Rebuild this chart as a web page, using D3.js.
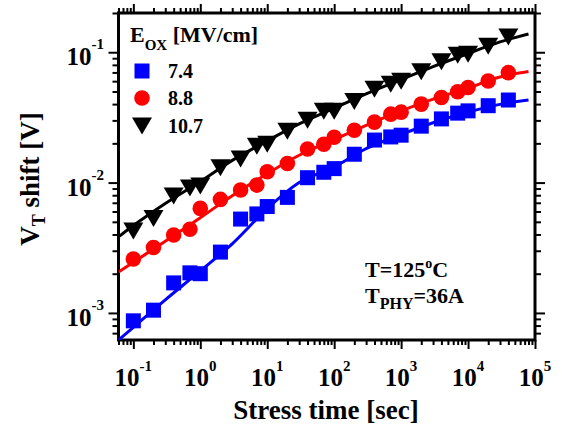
<!DOCTYPE html>
<html>
<head>
<meta charset="utf-8">
<script src="https://cdn.jsdelivr.net/npm/d3@7"></script>
<style>
body { margin: 0; background: #fff; }
text { font-family: "Liberation Serif", "Times New Roman", serif; font-weight: bold; fill: #000; }
</style>
</head>
<body>
<div id="chart"></div>
<script>
// stress times [sec] and measured VT shift [V] per oxide field
const times = [0.1, 0.2, 0.4, 0.7, 1, 2, 4, 7, 10, 20, 40, 70, 100, 200, 400, 700, 1000, 2000, 4000, 7000, 10000, 20000, 40000];
const shift74 = [8.7e-4, 1.05e-3, 1.7e-3, 2.03e-3, 2.0e-3, 2.93e-3, 5.25e-3, 5.75e-3, 6.55e-3, 7.7e-3, 1.09e-2, 1.2e-2, 1.28e-2, 1.65e-2, 2.12e-2, 2.24e-2, 2.31e-2, 2.71e-2, 3.08e-2, 3.41e-2, 3.55e-2, 3.89e-2, 4.3e-2];
const shift88 = [2.59e-3, 3.18e-3, 3.96e-3, 4.38e-3, 6.34e-3, 7.43e-3, 8.77e-3, 9.57e-3, 1.21e-2, 1.4e-2, 1.81e-2, 1.97e-2, 2.23e-2, 2.52e-2, 2.91e-2, 3.35e-2, 3.47e-2, 4.0e-2, 4.5e-2, 4.98e-2, 5.37e-2, 6.02e-2, 6.97e-2];
const shift107 = [4.25e-3, 5.3e-3, 7.89e-3, 9.08e-3, 9.4e-3, 1.3e-2, 1.52e-2, 1.9e-2, 1.97e-2, 2.48e-2, 3.01e-2, 3.53e-2, 3.53e-2, 4.18e-2, 5.2e-2, 5.68e-2, 6.0e-2, 7.09e-2, 8.46e-2, 9.48e-2, 9.66e-2, 0.111, 0.131];

// fitted curves
const fitTimes = [0.06, 0.1, 0.3, 1, 3, 10, 30, 100, 300, 1000, 3000, 10000, 30000, 80000];
const fit74 = [6.2e-4, 7.76e-4, 1.26e-3, 2.1e-3, 3.39e-3, 6.31e-3, 1.0e-2, 1.32e-2, 1.82e-2, 2.34e-2, 2.88e-2, 3.47e-2, 3.98e-2, 4.3e-2];
const fit88 = [2.06e-3, 2.45e-3, 3.55e-3, 5.37e-3, 7.94e-3, 1.17e-2, 1.62e-2, 2.14e-2, 2.75e-2, 3.55e-2, 4.37e-2, 5.31e-2, 6.46e-2, 7.11e-2];
const fit107 = [3.83e-3, 4.68e-3, 6.92e-3, 1.02e-2, 1.48e-2, 2.09e-2, 2.82e-2, 3.72e-2, 4.79e-2, 6.17e-2, 7.76e-2, 9.77e-2, 0.12, 0.138];

const legendLabels = ["7.4", "8.8", "10.7"];
const xTickValues = [0.1, 1, 10, 100, 1000, 10000, 100000];
const xTickExps = ["-1", "0", "1", "2", "3", "4", "5"];
const yTickValues = [0.001, 0.01, 0.1];
const yTickExps = ["-3", "-2", "-1"];

const width = 562, height = 427;
const margin = { left: 118.5, right: 535, top: 13, bottom: 340 };

const svg = d3.select("#chart").append("svg")
    .attr("width", width)
    .attr("height", height);

const x = d3.scaleLog().domain([0.06, 1e5]).range([margin.left, margin.right]);
const y = d3.scaleLog().domain([6.2e-4, 0.2]).range([margin.bottom, margin.top]);

svg.append("clipPath").attr("id", "plotclip")
    .append("rect")
    .attr("x", margin.left).attr("y", margin.top)
    .attr("width", margin.right - margin.left).attr("height", margin.bottom - margin.top);

// ticks on all four sides, pointing out
const xMinor = x.ticks().filter(t => !xTickValues.some(v => Math.abs(v - t) < 1e-9 * v));
const yMinor = y.ticks().filter(t => !yTickValues.some(v => Math.abs(v - t) < 1e-9));

function tickAxis(axis, values, size, transform) {
    const g = svg.append("g")
        .attr("transform", transform)
        .call(axis.tickValues(values).tickSize(size).tickSizeOuter(0).tickFormat(""));
    g.select(".domain").remove();
    g.selectAll("line").attr("stroke", "#000").attr("stroke-width", 2);
}
tickAxis(d3.axisBottom(x), xTickValues, 9, `translate(0,${margin.bottom})`);
tickAxis(d3.axisBottom(x), xMinor, 5, `translate(0,${margin.bottom})`);
tickAxis(d3.axisTop(x), xTickValues, 9, `translate(0,${margin.top})`);
tickAxis(d3.axisTop(x), xMinor, 5, `translate(0,${margin.top})`);
tickAxis(d3.axisLeft(y), yTickValues, 10, `translate(${margin.left},0)`);
tickAxis(d3.axisLeft(y), yMinor, 6, `translate(${margin.left},0)`);
tickAxis(d3.axisRight(y), yTickValues, 10, `translate(${margin.right},0)`);
tickAxis(d3.axisRight(y), yMinor, 6, `translate(${margin.right},0)`);

svg.append("rect")
    .attr("x", margin.left).attr("y", margin.top)
    .attr("width", margin.right - margin.left).attr("height", margin.bottom - margin.top)
    .attr("fill", "none")
    .attr("stroke", "#000")
    .attr("stroke-width", 3);

// tick labels 10^n
const xl = svg.selectAll(".xlab")
    .data(xTickValues)
    .enter()
    .append("text")
    .attr("class", "xlab")
    .attr("x", d => x(d))
    .attr("y", 386)
    .style("text-anchor", "middle")
    .style("font-size", "25px");
xl.append("tspan").text("10");
xl.append("tspan").attr("dy", -15).style("font-size", "15px").text((d, i) => xTickExps[i]);

const yl = svg.selectAll(".ylab")
    .data(yTickValues)
    .enter()
    .append("text")
    .attr("class", "ylab")
    .attr("x", 104)
    .attr("y", d => y(d) + 13)
    .style("text-anchor", "end")
    .style("font-size", "25px");
yl.append("tspan").text("10");
yl.append("tspan").attr("dy", -16).style("font-size", "15px").text((d, i) => yTickExps[i]);

// axis titles
svg.append("text")
    .attr("x", 326)
    .attr("y", 419)
    .style("text-anchor", "middle")
    .style("font-size", "27px")
    .text("Stress time [sec]");

const yt = svg.append("text")
    .attr("transform", "translate(39,179) rotate(-90)")
    .style("text-anchor", "middle")
    .style("font-size", "27px");
yt.append("tspan").text("V");
yt.append("tspan").attr("dy", 6).style("font-size", "18px").text("T");
yt.append("tspan").attr("dy", -6).text(" shift [V]");

// fit lines then markers
const series = [
    { values: shift74, fit: fit74, color: "#0000ff", shape: "square" },
    { values: shift88, fit: fit88, color: "#ff0000", shape: "circle" },
    { values: shift107, fit: fit107, color: "#000000", shape: "triangle" }
];

const line = d3.line()
    .x(d => x(d[0]))
    .y(d => y(d[1]))
    .curve(d3.curveMonotoneX);

const plot = svg.append("g").attr("clip-path", "url(#plotclip)");

series.forEach(s => {
    plot.append("path")
        .datum(fitTimes.map((t, i) => [t, s.fit[i]]))
        .attr("d", line)
        .attr("fill", "none")
        .attr("stroke", s.color)
        .attr("stroke-width", 3);
});

function drawMarker(g, shape, color, cx, cy) {
    if (shape === "square") {
        g.append("rect")
            .attr("x", cx - 7.5).attr("y", cy - 7.5)
            .attr("width", 15).attr("height", 15)
            .attr("fill", color);
    } else if (shape === "circle") {
        g.append("circle")
            .attr("cx", cx).attr("cy", cy).attr("r", 7.8)
            .attr("fill", color);
    } else {
        g.append("path")
            .attr("d", `M${cx - 10},${cy - 8.5}L${cx + 10},${cy - 8.5}L${cx},${cy + 8.5}Z`)
            .attr("fill", color);
    }
}

series.forEach(s => {
    const g = plot.append("g");
    times.forEach((t, i) => drawMarker(g, s.shape, s.color, x(t), y(s.values[i])));
});

// legend
const lt = svg.append("text")
    .attr("x", 130)
    .attr("y", 41.5)
    .style("font-size", "22px");
lt.append("tspan").text("E");
lt.append("tspan").attr("dy", 8).style("font-size", "15px").text("OX");
lt.append("tspan").attr("dy", -8).text(" [MV/cm]");

const legendY = [71, 98, 126];
series.forEach((s, i) => {
    drawMarker(svg, s.shape, s.color, 142, legendY[i]);
    svg.append("text")
        .attr("x", 168)
        .attr("y", legendY[i] + 7)
        .style("font-size", "20px")
        .text(legendLabels[i]);
});

// conditions
const a1 = svg.append("text")
    .attr("x", 365)
    .attr("y", 277)
    .style("font-size", "22px");
a1.append("tspan").text("T=125");
a1.append("tspan").attr("dy", -9).style("font-size", "14px").text("o");
a1.append("tspan").attr("dy", 9).text("C");

const a2 = svg.append("text")
    .attr("x", 365)
    .attr("y", 303)
    .style("font-size", "22px");
a2.append("tspan").text("T");
a2.append("tspan").attr("dy", 6).style("font-size", "16px").text("PHY");
a2.append("tspan").attr("dy", -6).text("=36A");
</script>
</body>
</html>
